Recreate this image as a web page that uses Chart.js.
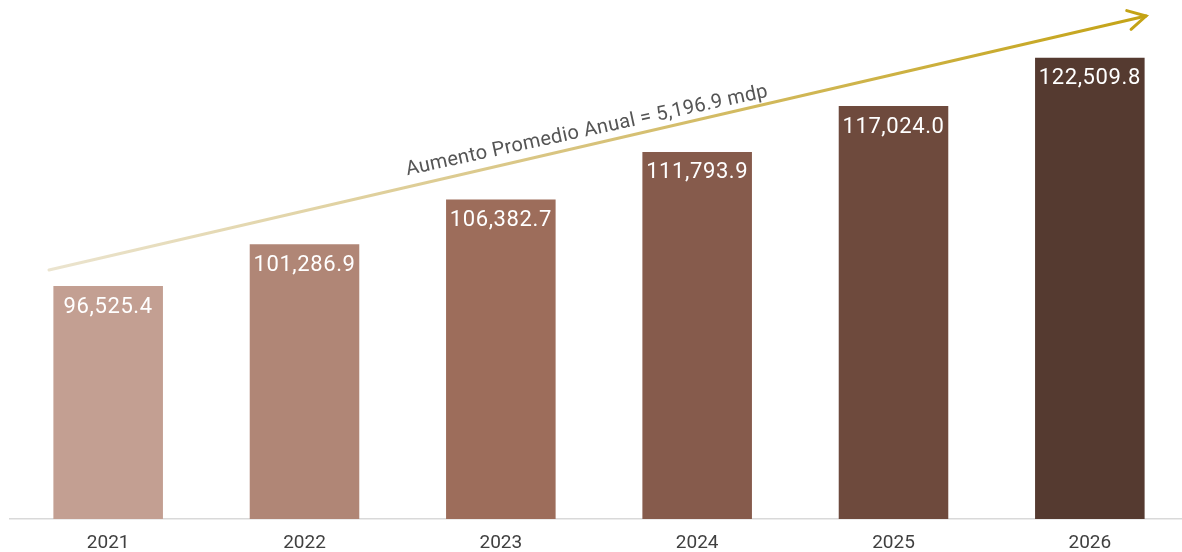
<!DOCTYPE html>
<html>
<head>
<meta charset="utf-8">
<script src="https://cdn.jsdelivr.net/npm/chart.js@4"></script>
<style>
  html, body { margin: 0; padding: 0; background: #fff; overflow: hidden; }
  #wrap { position: relative; width: 1188px; height: 552px; }
</style>
</head>
<body>
<div id="wrap"><canvas id="myChart"></canvas></div>
<script>
// datos
const years = ["2021", "2022", "2023", "2024", "2025", "2026"];
const values = [96525.4, 101286.9, 106382.7, 111793.9, 117024.0, 122509.8];
const barColors = ["#c39f92", "#b08676", "#9d6d5b", "#865b4c", "#6e4a3d", "#553a30"];
const trendText = "Aumento Promedio Anual = 5,196.9 mdp";

const fmt = v => v.toLocaleString("en-US", { minimumFractionDigits: 1, maximumFractionDigits: 1 });

// etiquetas blancas dentro de la barra + flecha de tendencia
const extras = {
  id: "extras",
  afterDatasetsDraw(chart) {
    const ctx = chart.ctx;
    const meta = chart.getDatasetMeta(0);
    ctx.save();
    ctx.fillStyle = "#ffffff";
    ctx.font = "22px Roboto";
    ctx.letterSpacing = "0.6px";
    ctx.textAlign = "center";
    ctx.textBaseline = "middle";
    meta.data.forEach((bar, i) => {
      ctx.fillText(fmt(values[i]), bar.x, bar.y + 21);
    });
    ctx.restore();

    // flecha
    const x0 = 49, y0 = 270, x1 = 1146, y1 = 16;
    ctx.save();
    const g = ctx.createLinearGradient(x0, y0, x1, y1);
    g.addColorStop(0, "#ebe4cf");
    g.addColorStop(0.5, "#d7c27a");
    g.addColorStop(1, "#c4a315");
    ctx.strokeStyle = g;
    ctx.lineWidth = 3;
    ctx.lineCap = "round";
    ctx.beginPath();
    ctx.moveTo(x0, y0);
    ctx.lineTo(x1, y1);
    ctx.stroke();
    const ang = Math.atan2(y1 - y0, x1 - x0);
    ctx.strokeStyle = "#c4a315";
    ctx.beginPath();
    ctx.moveTo(x1 - 20 * Math.cos(ang - 0.5), y1 - 20 * Math.sin(ang - 0.5));
    ctx.lineTo(x1, y1);
    ctx.lineTo(x1 - 20 * Math.cos(ang + 0.5), y1 - 20 * Math.sin(ang + 0.5));
    ctx.stroke();
    ctx.restore();

    // texto
    ctx.save();
    ctx.translate(587, 131);
    ctx.rotate(-12.3 * Math.PI / 180);
    ctx.fillStyle = "#555555";
    ctx.font = "20px Roboto";
    ctx.letterSpacing = "0.3px";
    ctx.textAlign = "center";
    ctx.textBaseline = "middle";
    ctx.fillText(trendText, 0, 0);
    ctx.restore();
  }
};

new Chart(document.getElementById("myChart"), {
  type: "bar",
  data: {
    labels: years,
    datasets: [{
      data: values,
      backgroundColor: barColors,
      borderWidth: 0,
      categoryPercentage: 1,
      barPercentage: 0.558
    }]
  },
  options: {
    responsive: true,
    maintainAspectRatio: false,
    animation: false,
    events: [],
    layout: { padding: { top: 36, left: 10, right: 0, bottom: 0 } },
    plugins: { legend: { display: false }, tooltip: { enabled: false } },
    scales: {
      x: {
        grid: { display: false, drawTicks: false },
        border: { color: "#d9d9d9", width: 1.5 },
        ticks: { color: "#404040", font: { family: "Roboto", size: 19 }, padding: 13 },
        afterFit(scale) { scale.height = 33; }
      },
      y: {
        display: false,
        min: 70000,
        max: 125000
      }
    }
  },
  plugins: [extras]
});
</script>
</body>
</html>
